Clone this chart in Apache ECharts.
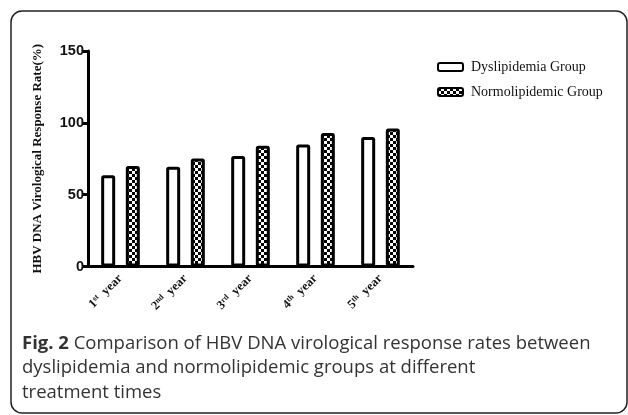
<!DOCTYPE html>
<html><head><meta charset="utf-8">
<script src="https://cdn.jsdelivr.net/npm/echarts@6/dist/echarts.min.js"></script>
<style>html,body{margin:0;padding:0;background:#fff}#c{width:628px;height:415px}</style>
</head><body><div id="c"></div>
<script>
const catBase = ['1', '2', '3', '4', '5'];
const catSup = ['st', 'nd', 'rd', 'th', 'th'];
const categories = ['1st year', '2nd year', '3rd year', '4th year', '5th year'];
const dyslipidemia = [63.6, 69.4, 77.0, 84.9, 90.2];
const normolipidemic = [70.0, 75.2, 84.0, 93.0, 96.1];
const seriesNames = ['Dyslipidemia Group', 'Normolipidemic Group'];
const yAxisTitle = 'HBV DNA Virological Response Rate(%)';
const captionBold = 'Fig. 2';
const captionLines = [
  ' Comparison of HBV DNA virological response rates between',
  'dyslipidemia and normolipidemic groups at different',
  'treatment times'
];

const pc = document.createElement('canvas');
pc.width = 6; pc.height = 6;
const g = pc.getContext('2d');
g.fillStyle = '#fff'; g.fillRect(0, 0, 6, 6);
g.fillStyle = '#000'; g.fillRect(0, 0, 3, 3); g.fillRect(3, 3, 3, 3);

const chart = echarts.init(document.getElementById('c'), null, {renderer: 'canvas'});
chart.setOption({
  animation: false,
  backgroundColor: '#fff',
  grid: {left: 88, top: 51, width: 325, height: 215.5, containLabel: false},
  legend: {
    orient: 'vertical', left: 432, top: 55, itemWidth: 25, itemHeight: 8, itemGap: 11,
    textStyle: {fontFamily: 'Liberation Serif, Times New Roman, serif', fontSize: 14, color: '#111', padding: [0, 0, 0, 3]},
    data: seriesNames
  },
  xAxis: {
    type: 'category', data: categories,
    axisLine: {lineStyle: {color: '#000', width: 3}},
    axisTick: {alignWithLabel: true, length: 6, lineStyle: {color: '#000', width: 3}},
    axisLabel: {
      interval: 0, rotate: 45, margin: 10,
      formatter: (v, i) => '{b|' + catBase[i] + '}{s|' + catSup[i] + '}{b|  year}',
      rich: {
        b: {fontFamily: 'Liberation Serif, Times New Roman, serif', fontWeight: 'bold', fontSize: 12.5, color: '#111'},
        s: {fontFamily: 'Liberation Serif, Times New Roman, serif', fontWeight: 'bold', fontSize: 8, color: '#111', verticalAlign: 'top', padding: [0, 0, 5, 0]}
      }
    }
  },
  yAxis: {
    type: 'value', min: 0, max: 150, interval: 50,
    name: yAxisTitle, nameLocation: 'middle', nameGap: 44, nameRotate: 90,
    nameTextStyle: {fontFamily: 'Liberation Serif, Times New Roman, serif', fontWeight: 'bold', fontSize: 13, color: '#111'},
    axisLine: {show: true, lineStyle: {color: '#000', width: 3}},
    axisTick: {show: true, length: 5, lineStyle: {color: '#000', width: 3}},
    axisLabel: {margin: 4, fontFamily: 'Liberation Sans, Arial, sans-serif', fontWeight: 'bold', fontSize: 14.5, color: '#111'},
    splitLine: {show: false}
  },
  series: [
    {name: seriesNames[0], type: 'bar', data: dyslipidemia, barWidth: 14, barGap: '76%',
     itemStyle: {color: '#fff', borderColor: '#000', borderWidth: 3, borderRadius: 1}},
    {name: seriesNames[1], type: 'bar', data: normolipidemic, barWidth: 14,
     itemStyle: {color: {image: pc, repeat: 'repeat'}, borderColor: '#000', borderWidth: 3, borderRadius: 1}}
  ],
  graphic: [
    {type: 'rect', shape: {x: 11, y: 11, width: 616, height: 402, r: 11}, style: {fill: 'none', stroke: '#222', lineWidth: 1.5}, silent: true},
    {type: 'text', left: 22, top: 331, style: {
      text: '{fb|' + captionBold + '}' + captionLines[0] + '\n' + captionLines[1] + '\n' + captionLines[2],
      font: '18.5px "Open Sans", sans-serif', fill: '#333', lineHeight: 24.5,
      rich: {fb: {fontFamily: 'Open Sans, sans-serif', fontWeight: 'bold', fontSize: 18.5, fill: '#333', lineHeight: 24.5}}
    }}
  ]
});
</script></body></html>
